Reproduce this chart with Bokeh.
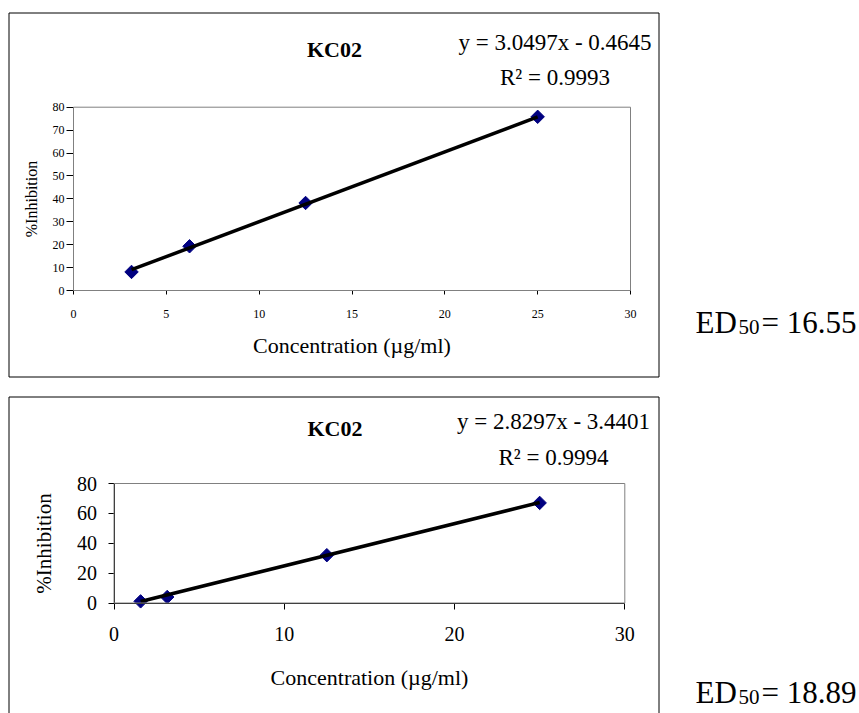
import math
from bokeh.plotting import figure
from bokeh.models import (Label, BoxAnnotation, FixedTicker, Range1d, LinearAxis)
from bokeh.embed import file_html
from bokeh.resources import INLINE

FONT = "Liberation Serif"

# ---------------- data ----------------
title = "KC02"
x_label = "Concentration (µg/ml)"
y_label = "%Inhibition"

conc_1 = [3.125, 6.25, 12.5, 25]
inhib_1 = [8.1, 19.3, 38.2, 75.8]
slope_1, intercept_1, r2_1 = 3.0497, -0.4645, 0.9993
ed50_1 = "16.55"
x_ticks_1 = [0, 5, 10, 15, 20, 25, 30]
y_ticks_1 = [0, 10, 20, 30, 40, 50, 60, 70, 80]

conc_2 = [1.5625, 3.125, 12.5, 25]
inhib_2 = [1.1, 4.0, 32.0, 67.0]
slope_2, intercept_2, r2_2 = 2.8297, -3.4401, 0.9994
ed50_2 = "18.89"
x_ticks_2 = [0, 10, 20, 30]
y_ticks_2 = [0, 20, 40, 60, 80]

X_LIM = (0, 30)
Y_LIM = (0, 80)

# ---------------- page canvas ----------------
W, H = 859, 713


def ranges_for(area):
    """Ranges so that X_LIM/Y_LIM fill the given plot area (canvas px l, r, t, b)."""
    l, r, t, b = area
    kx = (X_LIM[1] - X_LIM[0]) / (r - l)
    ky = (Y_LIM[1] - Y_LIM[0]) / (b - t)
    xr = Range1d(X_LIM[0] - l * kx, X_LIM[1] + (W - r) * kx)
    yr = Range1d(Y_LIM[0] - (H - b) * ky, Y_LIM[1] + t * ky)
    return xr, yr


g1 = dict(area=(73, 630, 106.7, 290),
          xtick=4, xstd=15, xlstd=12, ytick=7, ystd=2, ylstd=10,
          tickfs="12px", xlfs="22px", ylfs="16px",
          box=(8.5, 12.5, 658.5, 376.5),
          tx=334, ty=49.3, ex=554.5, ey1=42, ey2=77.3, ed=(695, 322))
g2 = dict(area=(113.5, 624.3, 483, 602.5),
          xtick=6, xstd=18, xlstd=20, ytick=6, ystd=11, ylstd=19,
          tickfs="20px", xlfs="22px", ylfs="21px",
          box=(8.5, 396.5, 658.5, 780),
          tx=334.5, ty=427.7, ex=553, ey1=420.7, ey2=456.7, ed=(695, 692))

xr1, yr1 = ranges_for(g1["area"])
xr2, yr2 = ranges_for(g2["area"])

p = figure(width=W, height=H, x_range=xr1, y_range=yr1,
           x_axis_type=None, y_axis_type=None, title=None,
           output_backend="svg", toolbar_location=None,
           min_border=0, min_border_left=0, min_border_right=0,
           min_border_top=0, min_border_bottom=0)
p.extra_x_ranges = {"x2": xr2}
p.extra_y_ranges = {"y2": yr2}
p.xgrid.visible = False
p.ygrid.visible = False
p.outline_line_color = None
p.background_fill_color = "white"
p.border_fill_color = "white"


def sx(cx):
    return cx


def sy(cy):
    return H - cy


def lab(text, cx, cy, size, align="left", style="normal"):
    p.add_layout(Label(x=sx(cx), y=sy(cy), x_units="screen", y_units="screen",
                       text=text, text_font=FONT, text_font_size=size,
                       text_font_style=style, text_align=align,
                       text_baseline="alphabetic", text_color="black"))


def chart(conc, inhib, slope, intercept, r2, ed50, xt, yt, g, xn, yn):
    # outer chart box
    bl, bt, br, bb = g["box"]
    p.add_layout(BoxAnnotation(left=sx(bl), right=sx(br), top=sy(bt), bottom=sy(bb),
                               left_units="screen", right_units="screen",
                               top_units="screen", bottom_units="screen",
                               fill_color=None, fill_alpha=0,
                               line_color="black", line_alpha=1, line_width=1))
    # plot-area border (grey)
    p.add_layout(BoxAnnotation(left=X_LIM[0], right=X_LIM[1], bottom=Y_LIM[0], top=Y_LIM[1],
                               x_range_name=xn, y_range_name=yn,
                               fill_color=None, fill_alpha=0,
                               line_color="#808080", line_alpha=1, line_width=1))

    xa = LinearAxis(x_range_name=xn, y_range_name=yn, fixed_location=Y_LIM[0],
                    bounds=X_LIM, ticker=FixedTicker(ticks=xt), axis_label=x_label)
    ya = LinearAxis(x_range_name=xn, y_range_name=yn, fixed_location=X_LIM[0],
                    bounds=Y_LIM, ticker=FixedTicker(ticks=yt), axis_label=y_label)
    for ax, k, fs in ((xa, "x", g["xlfs"]), (ya, "y", g["ylfs"])):
        ax.minor_tick_line_color = None
        ax.major_tick_in = 0
        ax.major_tick_out = g[k + "tick"]
        ax.major_label_standoff = g[k + "std"]
        ax.major_label_text_font = FONT
        ax.major_label_text_font_size = g["tickfs"]
        ax.major_label_text_color = "black"
        ax.axis_line_color = "black"
        ax.major_tick_line_color = "black"
        ax.axis_label_text_font = FONT
        ax.axis_label_text_font_style = "normal"
        ax.axis_label_text_color = "black"
        ax.axis_label_text_font_size = fs
        ax.axis_label_standoff = g[k + "lstd"]
    p.add_layout(xa, "below")
    p.add_layout(ya, "left")

    p.scatter(conc, inhib, marker="square", size=9.5, angle=math.pi / 4,
              fill_color="#000080", line_color="#000080",
              x_range_name=xn, y_range_name=yn)
    tx = [min(conc), max(conc)]
    ty = [slope * v + intercept for v in tx]
    p.line(tx, ty, line_color="black", line_width=3.5,
           x_range_name=xn, y_range_name=yn)

    lab(title, g["tx"], g["ty"], "22px", "center", "bold")
    sign = "-" if intercept < 0 else "+"
    lab(f"y = {slope}x {sign} {abs(intercept)}", g["ex"], g["ey1"], "23px", "center")
    lab(f"R² = {r2}", g["ex"], g["ey2"], "23px", "center")
    edx, edy = g["ed"]
    lab("ED", edx, edy, "31px")
    lab("50", edx + 43, edy + 4, "21px")
    lab(f"= {ed50}", edx + 66, edy, "31px")


chart(conc_1, inhib_1, slope_1, intercept_1, r2_1, ed50_1, x_ticks_1, y_ticks_1, g1,
      "default", "default")
chart(conc_2, inhib_2, slope_2, intercept_2, r2_2, ed50_2, x_ticks_2, y_ticks_2, g2,
      "x2", "y2")

open("out.html", "w").write(file_html(p, INLINE))
